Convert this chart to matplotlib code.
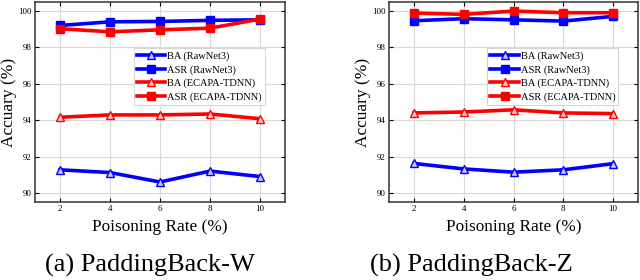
import matplotlib
matplotlib.use("Agg")
import matplotlib.pyplot as plt

plt.rcParams["font.family"] = ["Liberation Serif", "DejaVu Serif"]
plt.rcParams["mathtext.fontset"] = "stix"

rates = [2, 4, 6, 8, 10]
series_labels = ["BA (RawNet3)", "ASR (RawNet3)", "BA (ECAPA-TDNN)", "ASR (ECAPA-TDNN)"]

# PaddingBack-W
w_ba_raw = [91.27, 91.12, 90.6, 91.2, 90.9]
w_asr_raw = [99.21, 99.41, 99.43, 99.49, 99.52]
w_ba_ecapa = [94.16, 94.29, 94.29, 94.34, 94.08]
w_asr_ecapa = [99.03, 98.86, 98.97, 99.06, 99.56]

# PaddingBack-Z
z_ba_raw = [91.62, 91.32, 91.14, 91.27, 91.61]
z_asr_raw = [99.47, 99.58, 99.52, 99.45, 99.71]
z_ba_ecapa = [94.4, 94.45, 94.57, 94.4, 94.36]
z_asr_ecapa = [99.89, 99.82, 100.0, 99.91, 99.91]

panels = [
    ("(a) PaddingBack-W", [w_ba_raw, w_asr_raw, w_ba_ecapa, w_asr_ecapa]),
    ("(b) PaddingBack-Z", [z_ba_raw, z_asr_raw, z_ba_ecapa, z_asr_ecapa]),
]
styles = [
    ("#0000ff", "^", "#c8c8ff"),
    ("#0000ff", "s", "#0000ff"),
    ("#ff0000", "^", "#ffc8c8"),
    ("#ff0000", "s", "#ff0000"),
]

fig = plt.figure(figsize=(6.4, 2.8), dpi=100)
ax_rects = [
    (35 / 640, 78 / 280, 250 / 640, 200 / 280),
    (389 / 640, 78 / 280, 249 / 640, 200 / 280),
]
caption_x = [150 / 640, 471 / 640]

for rect, cx, (caption, data) in zip(ax_rects, caption_x, panels):
    ax = fig.add_axes(rect)
    for values, label, (color, marker, mfc) in zip(data, series_labels, styles):
        ax.plot(rates, values, color=color, linewidth=2.6, marker=marker,
                markersize=6, markerfacecolor=mfc, markeredgecolor=color,
                markeredgewidth=1.0, label=label)
    ax.set_xlim(1, 11)
    ax.set_ylim(89.5, 100.5)
    ax.set_xticks(rates)
    ax.set_yticks([90, 92, 94, 96, 98, 100])
    ax.grid(True, color="#d9d9d9", linewidth=0.8)
    ax.set_axisbelow(True)
    ax.tick_params(direction="in", top=True, right=True, length=3,
                   width=0.8, labelsize=6.5, pad=2.5)
    for s in ax.spines.values():
        s.set_linewidth(1.1)
        s.set_color("#333333")
    ax.set_xlabel("Poisoning Rate (%)", fontsize=12.4, labelpad=4)
    ax.set_ylabel("Accuary (%)", fontsize=12.5, labelpad=0.5)
    leg = ax.legend(loc="upper left", bbox_to_anchor=(0.395, 0.77),
                    fontsize=7.5, handlelength=2.7, labelspacing=0.4,
                    handletextpad=0.2, borderpad=0.3, fancybox=False,
                    framealpha=1, edgecolor="#cccccc", borderaxespad=0)
    leg.get_frame().set_linewidth(0.6)
    fig.text(cx, 15 / 280, caption, fontsize=19, ha="center", va="center")

fig.savefig("out.png", dpi=100)
